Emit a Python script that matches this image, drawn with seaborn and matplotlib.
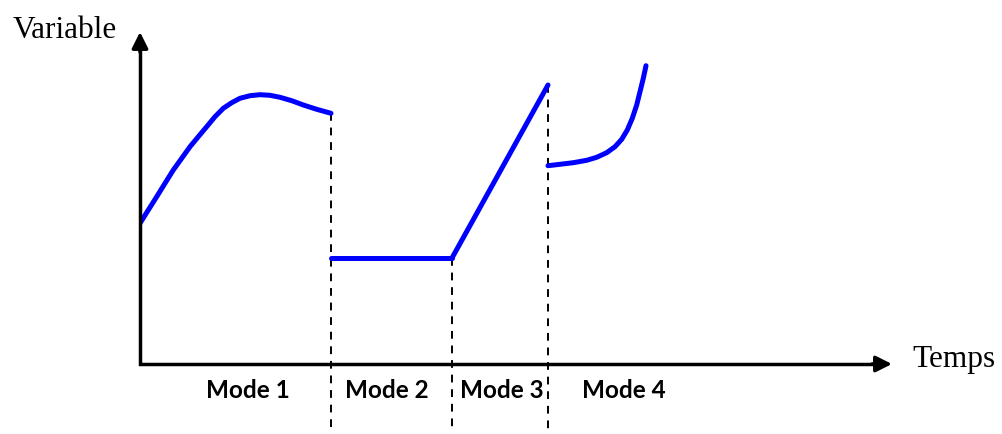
import pandas as pd
import matplotlib.pyplot as plt
import seaborn as sns

# curve readings per mode (time, variable)
mode1_t = [0, 0.83, 1.67, 2.5, 3.33, 4.17, 5.0, 5.83, 6.67, 7.5, 8.33,
           9.17, 10.0, 11.0, 12.0, 13.0, 14.0, 15.17, 16.33, 17.67, 19.1]
mode1_v = [14.07, 15.4, 16.73, 18.07, 19.4, 20.57, 21.73, 22.73, 23.73, 24.73,
           25.57, 26.13, 26.57, 26.83, 26.93, 26.87, 26.67, 26.33, 25.9, 25.47,
           25.07]
mode2_t = [19.1, 31.2]
mode2_v = [10.6, 10.6]
mode3_t = [31.2, 40.8]
mode3_v = [10.6, 27.9]
mode4_t = [40.8, 42.0, 43.33, 44.67, 45.67, 46.67, 47.5, 48.17, 48.73, 49.23,
           49.67, 50.0, 50.33, 50.6]
mode4_v = [19.83, 19.97, 20.13, 20.37, 20.67, 21.13, 21.73, 22.47, 23.4, 24.57,
           25.9, 27.23, 28.57, 29.83]

mode_labels = ["Mode 1", "Mode 2", "Mode 3", "Mode 4"]
boundaries_t = [19.1, 31.2, 40.8]

frames = []
for name, t, v in zip(mode_labels, [mode1_t, mode2_t, mode3_t, mode4_t],
                      [mode1_v, mode2_v, mode3_v, mode4_v]):
    frames.append(pd.DataFrame({"t": t, "v": v, "mode": name}))
df = pd.concat(frames, ignore_index=True)

sns.set_style("white")
plt.rcParams['font.family'] = ['Liberation Serif', 'DejaVu Sans']
plt.rcParams['text.color'] = 'black'

X_MAX, Y_MAX = 75.2, 33.2

fig = plt.figure(figsize=(10.03, 4.34), dpi=100)
ax = fig.add_axes([140 / 1003, 70 / 434, 752 / 1003, 332 / 434])

sns.lineplot(data=df, x="t", y="v", units="mode", estimator=None, sort=False,
             color="blue", linewidth=3.6, ax=ax, legend=False)

# dashed separators, from the curve down to the bottom edge
for bt in boundaries_t:
    top = df.loc[df["t"] == bt, "v"].max()
    ax.plot([bt, bt], [top, -6.9], color="black", lw=1.4,
            linestyle=(0, (4, 3.5)), clip_on=False, zorder=1)

ax.set_xlim(0, X_MAX)
ax.set_ylim(0, Y_MAX)
for s in ax.spines.values():
    s.set_visible(False)
ax.set_xticks([])
ax.set_yticks([])
ax.set_xlabel("")
ax.set_ylabel("")

# axes: L-shaped line with arrow heads
ax.plot([0, 0, X_MAX - 1.0], [Y_MAX - 1.0, 0, 0], color="black", lw=2.5,
        solid_joinstyle="miter", solid_capstyle="butt", clip_on=False, zorder=3)
ax.annotate("", xy=(X_MAX, 0), xytext=(X_MAX - 2.0, 0),
            arrowprops=dict(arrowstyle="-|>", lw=2.5, color="black",
                            mutation_scale=24, shrinkA=0, shrinkB=0))
ax.annotate("", xy=(0, Y_MAX), xytext=(0, Y_MAX - 2.0),
            arrowprops=dict(arrowstyle="-|>", lw=2.5, color="black",
                            mutation_scale=24, shrinkA=0, shrinkB=0))

ax.text(-7.5, 32.6, "Variable", fontsize=22.5, ha="center", va="baseline",
        clip_on=False)
ax.text(77.2, -0.3, "Temps", fontsize=22.5, ha="left", va="baseline",
        clip_on=False)

for label, x in zip(mode_labels, [10.8, 24.7, 36.2, 48.4]):
    ax.text(x, -2.65, label, fontsize=17.5, fontweight="bold", ha="center",
            va="center", family=["Lato", "DejaVu Sans"], clip_on=False)

fig.savefig("out.png", dpi=100)
